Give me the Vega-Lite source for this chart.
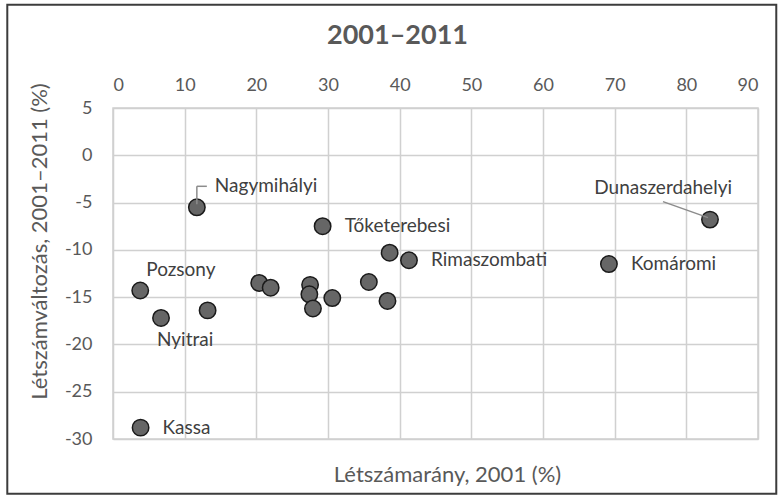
{
  "$schema": "https://vega.github.io/schema/vega-lite/v6.json",
  "width": 645,
  "height": 331,
  "autosize": "none",
  "padding": {"left": 113, "top": 108, "right": 21, "bottom": 58},
  "background": "white",
  "config": {
    "font": "Lato",
    "view": {"stroke": "#d0d0d0", "strokeWidth": 1.5}
  },
  "title": {
    "text": "2001–2011",
    "fontSize": 27,
    "fontWeight": "bold",
    "color": "#595959",
    "anchor": "middle",
    "dx": -38,
    "offset": -46
  },
  "data": {
    "values": [
      {"label": "Nagymihályi", "share": 11.7, "change": -5.5},
      {"label": "Tőketerebesi", "share": 29.25, "change": -7.5},
      {"label": "", "share": 38.6, "change": -10.3},
      {"label": "Rimaszombati", "share": 41.3, "change": -11.1},
      {"label": "Pozsony", "share": 3.8, "change": -14.3},
      {"label": "Nyitrai", "share": 6.7, "change": -17.2},
      {"label": "", "share": 13.2, "change": -16.4},
      {"label": "", "share": 20.4, "change": -13.5},
      {"label": "", "share": 22.0, "change": -14.0},
      {"label": "", "share": 27.5, "change": -13.7},
      {"label": "", "share": 27.4, "change": -14.7},
      {"label": "", "share": 27.9, "change": -16.2},
      {"label": "", "share": 30.6, "change": -15.1},
      {"label": "", "share": 35.7, "change": -13.4},
      {"label": "", "share": 38.3, "change": -15.4},
      {"label": "Dunaszerdahelyi", "share": 83.3, "change": -6.8},
      {"label": "Komáromi", "share": 69.2, "change": -11.5},
      {"label": "Kassa", "share": 3.85, "change": -28.8}
    ]
  },
  "resolve": {"axis": {"x": "independent"}},
  "layer": [
    {
      "data": {"values": [{"frame": 1}]},
      "mark": {"type": "rect", "fillOpacity": 0, "stroke": "#3c3c3c", "strokeWidth": 2},
      "encoding": {
        "x": {"datum": -14.75, "type": "quantitative", "scale": {"domain": [0, 90], "nice": false, "zero": false}, "axis": null},
        "x2": {"datum": 92.55},
        "y": {"datum": 15.92, "type": "quantitative", "scale": {"domain": [-30, 5], "nice": false, "zero": false}},
        "y2": {"datum": -35.78}
      }
    },
    {
      "mark": {"type": "circle", "size": 270, "fill": "#666666", "stroke": "#1a1a1a", "strokeWidth": 1.5, "opacity": 1},
      "encoding": {
        "x": {
          "field": "share", "type": "quantitative",
          "scale": {"domain": [0, 90], "nice": false, "zero": false},
          "axis": {
            "orient": "top", "values": [0, 10, 20, 30, 40, 50, 60, 70, 80, 90],
            "grid": true, "gridColor": "#d0d0d0", "gridWidth": 1.5,
            "domain": false, "ticks": false,
            "labelFontSize": 18, "labelColor": "#595959", "labelPadding": 14,
            "title": null
          }
        },
        "y": {
          "field": "change", "type": "quantitative",
          "scale": {"domain": [-30, 5], "nice": false, "zero": false},
          "axis": {
            "values": [-30, -25, -20, -15, -10, -5, 0, 5],
            "labelExpr": "'' + datum.value",
            "grid": true, "gridColor": "#d0d0d0", "gridWidth": 1.5,
            "domain": false, "ticks": false,
            "labelFontSize": 18, "labelColor": "#595959", "labelPadding": 21,
            "title": "Létszámváltozás, 2001–2011 (%)",
            "titleFontSize": 22, "titleFontWeight": "normal", "titleColor": "#595959",
            "titlePadding": 13, "titleY": 133
          }
        }
      }
    },
    {
      "transform": [{"filter": "datum.label == 'Nagymihályi'"}],
      "mark": {"type": "rule", "color": "#8c8c8c", "strokeWidth": 1.5, "yOffset": -3, "y2Offset": -21},
      "encoding": {
        "x": {
          "field": "share", "type": "quantitative",
          "axis": {
            "orient": "bottom", "labels": false, "ticks": false, "domain": false, "grid": false,
            "title": "Létszámarány, 2001 (%)",
            "titleFontSize": 22, "titleFontWeight": "normal", "titleColor": "#595959",
            "titlePadding": 25, "titleX": 334
          }
        },
        "y": {"field": "change", "type": "quantitative"},
        "x2": {"field": "share"},
        "y2": {"field": "change"}
      }
    },
    {
      "transform": [{"filter": "datum.label == 'Nagymihályi'"}],
      "mark": {"type": "rule", "color": "#8c8c8c", "strokeWidth": 1.5, "yOffset": -21, "y2Offset": -21, "x2Offset": 10},
      "encoding": {
        "x": {"field": "share", "type": "quantitative", "axis": null},
        "y": {"field": "change", "type": "quantitative"},
        "x2": {"field": "share"},
        "y2": {"field": "change"}
      }
    },
    {
      "transform": [{"filter": "datum.label == 'Dunaszerdahelyi'"}],
      "mark": {"type": "rule", "color": "#8c8c8c", "strokeWidth": 1.5, "xOffset": -2, "yOffset": -2, "x2Offset": -47, "y2Offset": -18},
      "encoding": {
        "x": {"field": "share", "type": "quantitative", "axis": null},
        "y": {"field": "change", "type": "quantitative"},
        "x2": {"field": "share"},
        "y2": {"field": "change"}
      }
    },
    {
      "transform": [{"filter": "indexof(['Tőketerebesi','Rimaszombati','Komáromi','Kassa'], datum.label) >= 0"}],
      "mark": {"type": "text", "align": "left", "baseline": "middle", "dx": 22, "fontSize": 19, "color": "#404040"},
      "encoding": {
        "x": {"field": "share", "type": "quantitative", "axis": null},
        "y": {"field": "change", "type": "quantitative"},
        "text": {"field": "label"}
      }
    },
    {
      "transform": [{"filter": "datum.label == 'Pozsony'"}],
      "mark": {"type": "text", "align": "left", "baseline": "middle", "dx": 6, "dy": -21, "fontSize": 19, "color": "#404040"},
      "encoding": {
        "x": {"field": "share", "type": "quantitative", "axis": null},
        "y": {"field": "change", "type": "quantitative"},
        "text": {"field": "label"}
      }
    },
    {
      "transform": [{"filter": "datum.label == 'Nyitrai'"}],
      "mark": {"type": "text", "align": "left", "baseline": "middle", "dx": -4, "dy": 22, "fontSize": 19, "color": "#404040"},
      "encoding": {
        "x": {"field": "share", "type": "quantitative", "axis": null},
        "y": {"field": "change", "type": "quantitative"},
        "text": {"field": "label"}
      }
    },
    {
      "transform": [{"filter": "datum.label == 'Nagymihályi'"}],
      "mark": {"type": "text", "align": "left", "baseline": "middle", "dx": 18, "dy": -21, "fontSize": 19, "color": "#404040"},
      "encoding": {
        "x": {"field": "share", "type": "quantitative", "axis": null},
        "y": {"field": "change", "type": "quantitative"},
        "text": {"field": "label"}
      }
    },
    {
      "transform": [{"filter": "datum.label == 'Dunaszerdahelyi'"}],
      "mark": {"type": "text", "align": "right", "baseline": "middle", "dx": 22, "dy": -32, "fontSize": 19, "color": "#404040"},
      "encoding": {
        "x": {"field": "share", "type": "quantitative", "axis": null},
        "y": {"field": "change", "type": "quantitative"},
        "text": {"field": "label"}
      }
    }
  ]
}
